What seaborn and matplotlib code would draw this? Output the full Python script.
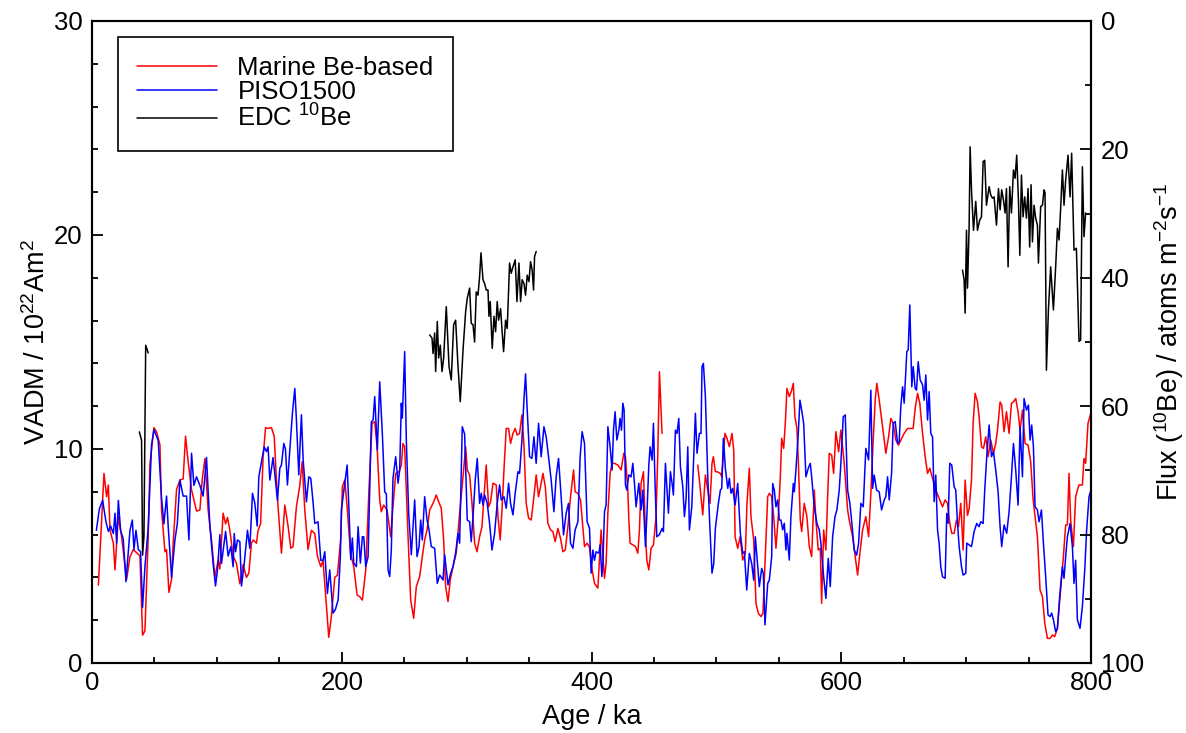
import numpy as np
import pandas as pd
import matplotlib
matplotlib.use("Agg")
import matplotlib.pyplot as plt
from matplotlib.ticker import MultipleLocator
import seaborn as sns

# ---- data ----
# Marine Be-based VADM (10^22 Am^2), gap between ~457 and ~485 ka
marine_age = [5.1, 9.6, 11.7, 13.1, 14.4, 17.1, 18.4, 21.1, 23.7, 27.7, 30.4, 33.1, 38.4, 40.5, 42.4,
              45.0, 46.4, 49.6, 51.7, 54.4, 55.7, 58.4, 59.7, 61.6, 63.7, 65.0, 67.7, 70.4, 73.0, 74.9,
              77.0, 79.7, 83.7, 86.4, 88.3, 90.4, 93.0, 95.7, 98.4, 101.0, 102.4, 105.0, 107.0, 108.5,
              110.4, 113.0, 115.7, 118.4, 121.0, 123.7, 125.6, 127.7, 129.1, 131.7, 133.0, 135.0, 137.0,
              139.0, 141.0, 143.7, 145.9, 147.7, 149.0, 151.7, 154.4, 157.0, 159.2, 161.0, 163.7, 166.4,
              168.3, 170.4, 173.0, 175.7, 178.4, 180.5, 183.2, 185.0, 187.2, 189.6, 191.7, 194.4, 196.5,
              199.2, 200.5, 202.4, 204.3, 207.0, 209.6, 212.3, 214.4, 216.5, 219.2, 221.9, 224.3, 226.4,
              228.3, 230.4, 231.7, 233.6, 236.3, 239.2, 241.0, 243.2, 245.9, 247.7, 249.0, 250.4, 253.1,
              255.2, 257.6, 259.7, 262.4, 264.5, 266.4, 268.3, 270.4, 273.1, 275.7, 277.6, 279.7, 281.6,
              283.2, 285.1, 286.9, 289.1, 291.7, 294.4, 297.1, 299.2, 300.5, 302.4, 304.3, 306.4, 308.3,
              310.4, 312.3, 313.9, 315.7, 317.6, 319.2, 321.1, 323.7, 325.1, 326.9, 328.3, 329.9, 331.7,
              333.6, 335.2, 337.1, 338.9, 340.5, 342.4, 344.3, 345.9, 347.7, 349.6, 351.7, 353.6, 355.7,
              357.6, 359.2, 361.1, 363.0, 365.1, 367.2, 369.1, 370.9, 373.1, 375.2, 377.1, 379.0, 381.1,
              383.2, 384.3, 385.6, 386.9, 389.1, 391.2, 393.1, 394.4, 396.5, 398.4, 400.5, 402.4, 405.1,
              407.7, 409.1, 410.4, 411.7, 413.1, 414.9, 416.5, 418.4, 421.1, 423.7, 425.9, 427.2, 429.1,
              429.9, 430.9, 433.1, 435.2, 437.1, 438.4, 439.7, 441.6, 443.2, 444.3, 445.9, 447.7, 449.6,
              451.7, 453.1, 454.4, 456.5,
              485.1, 486.4, 489.1, 491.2, 493.1, 494.9, 496.5, 497.6, 499.2, 500.5, 503.2, 504.3, 506.9,
              508.5, 510.4, 512.5, 513.9, 515.0, 517.1, 519.0, 521.1, 523.2, 524.5, 526.4, 527.7, 529.9,
              531.7, 533.6, 535.7, 537.3, 538.9, 541.1, 542.4, 544.3, 545.9, 547.7, 549.6, 551.2, 552.3,
              553.9, 555.2, 556.5, 558.4, 560.3, 561.6, 562.9, 564.5, 565.6, 567.2, 568.3, 570.4, 572.5,
              574.4, 576.3, 578.4, 579.7, 581.6, 583.2, 584.3, 585.9, 587.7, 589.1, 590.4, 592.3, 593.9,
              595.7, 597.9, 599.7, 602.4, 605.1, 606.4, 609.1, 611.2, 613.1, 614.9, 617.1, 619.7, 621.9,
              623.7, 625.6, 627.2, 628.5, 630.4, 633.1, 635.7, 637.9, 639.7, 641.6, 643.7, 645.9, 647.7,
              650.4, 653.1, 655.7, 657.6, 659.2, 661.1, 662.9, 665.1, 667.2, 669.1, 670.9, 673.1, 675.7,
              678.4, 681.1, 683.2, 685.1, 686.9, 688.5, 690.4, 692.3, 693.9, 695.7, 697.6, 699.2, 701.1,
              702.4, 704.3, 705.6, 707.2, 709.1, 710.4, 712.3, 713.9, 715.7, 717.6, 719.7, 721.9, 723.7,
              725.1, 727.2, 728.5, 730.4, 732.3, 734.4, 736.3, 737.9, 739.7, 741.6, 743.2, 745.1, 747.2,
              749.6, 751.7, 753.6, 755.2, 757.1, 759.2, 761.1, 763.0, 765.1, 767.2, 769.1, 770.9, 773.1,
              775.2, 777.9, 779.7, 781.1, 782.4, 783.7, 785.9, 787.7, 789.1, 790.4, 793.1, 794.4, 795.7,
              797.6, 799.5]
marine_vadm = [3.64, 8.86, 7.77, 8.32, 6.21, 5.6, 4.35, 6.84, 5.9, 3.9, 4.97, 5.3, 5.0, 1.3, 1.5,
               5.9, 9.3, 11.0, 10.8, 10.2, 7.15, 5.2, 5.3, 3.3, 3.9, 5.6, 8.1, 8.55, 8.6, 10.6,
               9.4, 8.1, 7.1, 7.15, 8.6, 9.55, 7.15, 5.75, 4.0, 4.8, 4.4, 7.0, 6.5, 6.8,
               6.2, 5.0, 4.65, 3.7, 4.6, 4.0, 4.2, 5.6, 5.75, 5.6, 6.2, 6.5, 9.6,
               11.0, 10.96, 11.0, 10.6, 8.55, 7.3, 5.13, 7.38, 6.4, 5.36, 5.44, 7.3, 8.3,
               9.4, 7.15, 5.3, 6.2, 6.05, 5.0, 4.5, 4.8, 3.1, 1.2, 2.17, 4.0, 4.1,
               5.8, 8.24, 8.55, 7.3, 5.14, 4.5, 3.18, 3.1, 2.94, 4.34, 8.24, 11.2, 11.27,
               10.11, 7.62, 7.07, 7.38, 7.15, 5.9, 7.3, 8.86, 8.94, 9.25, 10.26, 10.1, 5.9,
               2.94, 2.09, 3.57, 4.04, 4.97, 5.75, 6.22, 7.15, 7.46, 7.85, 7.54, 7.23, 5.75,
               3.57, 2.87, 3.88, 4.5, 5.14, 7.0, 8.7, 10.1, 9.02, 8.79, 7.46, 5.6, 5.2,
               5.9, 6.37, 7.77, 9.25, 7.3, 7.53, 8.4, 8.32, 6.84, 5.75, 7.15, 9.02, 10.96,
               10.96, 10.26, 10.73, 10.96, 10.65, 10.73, 11.6, 10.2, 7.46, 6.77, 6.68, 7.62, 8.79,
               7.77, 8.24, 8.86, 8.24, 6.52, 6.22, 6.14, 5.67, 6.29, 5.82, 5.2, 5.28, 6.37,
               7.77, 8.32, 9.02, 8.0, 7.93, 7.62, 6.29, 5.44, 5.6, 5.4, 4.35, 3.72, 3.5,
               6.22, 5.0, 3.96, 4.65, 7.0, 8.86, 9.33, 9.33, 9.25, 9.02, 9.8, 9.64, 8.08,
               6.68, 5.6, 5.52, 5.44, 5.13, 6.22, 8.4, 8.94, 6.06, 4.8, 4.35, 5.36, 5.52,
               6.84, 9.8, 13.61, 10.73,
               9.25, 8.55, 6.92, 8.79, 8.08, 7.46, 9.33, 9.64, 8.94, 8.94, 8.86, 8.7, 10.73,
               10.5, 10.11, 10.73, 9.95, 5.9, 5.36, 5.9, 4.81, 5.12, 7.46, 9.1, 6.84, 5.75,
               2.79, 2.32, 2.17, 2.32, 4.65, 7.77, 7.93, 7.77, 6.84, 5.36, 6.84, 8.7, 10.5,
               10.03, 11.2, 12.83, 12.45, 12.75, 13.07, 11.51, 10.96, 9.48, 6.68, 6.14, 7.46, 6.84,
               5.44, 4.97, 8.08, 6.68, 5.28, 5.36, 2.79, 6.22, 5.28, 7.77, 9.8, 9.72, 8.86,
               10.81, 9.87, 10.88, 9.33, 7.15, 6.68, 5.9, 4.97, 4.11, 5.12, 6.22, 6.84, 5.9,
               7.93, 10.42, 12.28, 13.07, 12.28, 11.04, 9.8, 10.57, 11.43, 11.2, 10.42, 10.18, 10.42,
               10.73, 10.96, 10.96, 10.96, 11.9, 12.6, 12.14, 10.73, 9.64, 8.86, 9.1, 8.63, 8.08,
               7.69, 7.3, 7.62, 7.46, 6.53, 6.06, 6.06, 6.68, 6.37, 7.46, 5.28, 8.55, 6.9,
               7.2, 8.55, 11.2, 12.6, 12.2, 11.5, 10.1, 10.03, 10.57, 9.64, 10.42, 9.8, 10.26,
               10.88, 12.2, 12.05, 10.81, 11.74, 10.73, 12.14, 12.2, 12.36, 11.74, 10.88, 11.82, 10.26,
               10.18, 9.41, 7.69, 6.84, 5.9, 3.41, 3.1, 1.85, 1.15, 1.15, 1.31, 1.23, 1.62,
               3.1, 4.97, 6.45, 6.45, 8.86, 6.68, 5.44, 7.77, 8.08, 8.32, 8.32, 9.56, 9.33,
               11.2, 11.6]

# PISO1500 VADM (10^22 Am^2)
piso_age = [3.5, 5.9, 8.5, 11.2, 13.1, 14.9, 17.1, 18.4, 19.7, 21.1, 22.9, 25.0, 27.2, 30.4, 32.3,
            33.6, 35.2, 37.1, 38.9, 40.5, 42.4, 45.0, 47.7, 49.6, 53.0, 55.7, 57.6, 59.7, 61.0, 63.7,
            66.4, 68.3, 70.4, 73.0, 75.7, 77.6, 79.7, 81.6, 83.7, 86.4, 89.0, 91.7, 94.4, 97.0, 98.9,
            100.5, 102.4, 103.7, 107.0, 109.0, 111.2, 113.0, 113.9, 115.0, 116.5, 118.4, 119.7, 121.9,
            124.5, 126.4, 128.5, 130.4, 132.3, 133.6, 135.7, 137.9, 139.7, 141.0, 142.4, 145.0, 146.9,
            148.5, 150.4, 151.7, 153.6, 154.9, 156.5, 158.4, 160.5, 162.4, 163.7, 165.6, 167.7, 169.1,
            171.7, 173.6, 175.2, 177.0, 178.4, 181.0, 183.2, 185.0, 186.4, 188.5, 190.4, 193.0, 194.9,
            197.1, 198.9, 199.7, 202.4, 204.3, 205.9, 207.2, 208.5, 209.6, 211.7, 213.1, 214.9, 216.5,
            217.6, 219.2, 221.1, 223.7, 225.1, 226.4, 228.5, 230.4, 232.5, 234.4, 235.7, 237.1, 238.4,
            239.7, 241.0, 243.2, 245.1, 246.4, 247.7, 248.5, 250.4, 251.7, 253.6, 255.7, 258.4, 260.3,
            261.9, 263.2, 264.5, 266.4, 268.3, 269.9, 271.7, 274.4, 276.5, 278.4, 281.1, 282.4, 285.1,
            287.2, 289.1, 291.2, 293.1, 294.4, 296.5, 298.4, 300.5, 302.4, 303.7, 305.1, 306.9, 308.5,
            310.4, 311.7, 313.1, 314.4, 316.5, 318.4, 320.3, 322.4, 324.5, 326.4, 327.7, 329.9, 331.7,
            333.6, 335.2, 337.1, 338.9, 341.1, 342.4, 344.3, 345.9, 347.2, 348.5, 350.4, 352.3, 353.9,
            355.7, 357.6, 359.7, 361.9, 363.7, 365.6, 367.7, 369.9, 371.7, 373.6, 375.7, 377.6, 379.7,
            381.6, 383.2, 385.1, 386.9, 389.1, 390.9, 392.5, 394.4, 396.5, 398.4, 399.7, 401.1, 402.4,
            403.7, 405.9, 406.9, 408.3, 409.1, 410.4, 411.7, 413.1, 414.9, 416.5, 417.6, 418.9, 420.3,
            421.9, 422.9, 424.0, 425.1, 426.1, 427.2, 428.3, 429.9, 431.7, 433.1, 434.4, 435.7, 437.9,
            439.7, 441.1, 443.2, 444.3, 445.9, 446.9, 448.5, 449.6, 450.9, 452.3, 454.4, 456.5, 457.6,
            459.2, 460.3, 461.6, 463.2, 464.5, 465.6, 467.2, 468.5, 469.9, 471.2, 473.1, 474.4, 475.7,
            477.1, 478.4, 480.3, 481.9, 483.2, 484.5, 486.4, 487.7, 488.5, 489.6, 491.2, 493.1, 494.9,
            496.5, 497.9, 499.2, 501.6, 503.2, 504.3, 505.6, 507.2, 509.1, 510.4, 511.7, 513.1, 515.0,
            517.1, 519.2, 521.1, 522.4, 524.3, 526.4, 528.3, 529.9, 531.2, 532.5, 534.4, 536.3, 537.6,
            538.9, 541.1, 542.4, 544.3, 545.1, 546.4, 547.7, 549.1, 550.4, 551.7, 553.1, 554.4, 555.7,
            556.5, 558.4, 559.7, 561.6, 562.4, 563.7, 565.6, 566.9, 568.3, 569.9, 571.7, 573.6, 575.2,
            576.3, 578.4, 580.5, 582.4, 583.7, 585.9, 587.7, 589.6, 591.2, 593.1, 595.0, 596.5, 598.4,
            599.7, 601.6, 603.2, 605.1, 606.9, 608.5, 610.4, 612.3, 613.9, 615.7, 617.6, 619.7, 621.9,
            623.7, 625.1, 626.4, 628.3, 630.4, 632.3, 634.4, 635.7, 637.1, 638.4, 640.3, 641.6, 643.2,
            645.1, 646.4, 647.7, 649.1, 650.4, 652.5, 653.6, 654.9, 656.5, 657.6, 659.2, 660.3, 661.6,
            663.2, 665.1, 666.4, 667.7, 669.1, 670.4, 671.7, 673.1, 674.4, 675.7, 677.1, 678.4, 679.7,
            681.1, 683.2, 684.5, 685.6, 686.9, 688.5, 690.4, 691.7, 693.1, 694.4, 696.3, 697.6, 699.7,
            700.5, 702.4, 704.3, 706.4, 708.5, 710.4, 711.7, 713.6, 714.9, 716.5, 718.4, 720.3, 721.9,
            723.7, 725.6, 727.2, 728.5, 730.4, 732.5, 734.4, 736.3, 737.9, 739.7, 741.6, 743.2, 745.1,
            746.4, 748.3, 749.9, 751.2, 752.5, 753.9, 755.2, 757.1, 758.4, 760.3, 761.9, 763.7, 765.6,
            767.2, 768.5, 769.9, 771.7, 773.1, 774.9, 777.1, 778.4, 779.7, 781.1, 783.2, 785.1, 786.4,
            787.7, 789.1, 791.2, 793.1, 795.0, 796.5, 798.4, 799.5]
piso_vadm = [6.2, 7.2, 7.6, 6.6, 6.15, 6.4, 6.05, 7.0, 5.6, 7.6, 6.2, 5.8, 3.8, 6.2, 6.68,
             5.3, 6.2, 5.3, 5.2, 2.6, 4.5, 6.3, 10.2, 10.9, 10.4, 7.7, 6.5, 7.8, 6.4, 4.0,
             5.75, 6.5, 8.55, 7.8, 7.8, 5.75, 9.8, 8.3, 8.7, 8.3, 7.8, 9.6, 6.4, 4.65, 3.6,
             4.35, 6.0, 4.65, 6.15, 5.0, 5.44, 4.5, 6.05, 5.2, 5.75, 5.67, 3.6, 4.65,
             6.2, 5.36, 7.93, 7.46, 6.4, 8.7, 9.4, 10.1, 9.88, 10.1, 8.55, 9.6, 8.55,
             7.6, 9.1, 9.25, 10.26, 10.0, 8.32, 9.95, 11.67, 12.83, 11.36, 8.79, 11.6, 9.48,
             7.53, 8.7, 8.63, 7.53, 6.52, 6.6, 4.8, 4.8, 5.2, 3.25, 4.35, 2.33, 2.5,
             2.95, 5.0, 7.15, 8.4, 9.25, 7.0, 4.83, 5.84, 4.67, 4.5, 6.37, 4.67, 5.9,
             5.9, 4.5, 4.97, 11.27, 11.35, 12.45, 9.95, 13.14, 10.73, 8.0, 7.9, 4.34, 4.04,
             5.28, 8.62, 9.64, 8.4, 9.02, 12.14, 11.44, 14.55, 10.42, 7.0, 5.06, 7.62, 4.97,
             5.44, 6.68, 5.75, 7.77, 6.68, 6.22, 5.44, 5.36, 3.72, 4.11, 3.88, 5.06, 3.65,
             4.19, 4.5, 5.14, 6.06, 5.6, 11.04, 10.7, 6.68, 6.6, 5.67, 6.84, 8.55, 9.56,
             7.46, 7.93, 7.38, 7.85, 7.46, 6.52, 5.28, 6.06, 7.46, 8.32, 7.62, 7.77, 7.23,
             8.4, 7.46, 6.92, 7.93, 8.94, 8.86, 10.42, 12.3, 13.51, 11.84, 9.64, 9.56, 10.57,
             9.33, 11.2, 9.64, 11.04, 10.57, 9.64, 8.55, 7.07, 8.7, 9.56, 7.77, 5.99, 7.0,
             7.46, 5.6, 5.36, 6.22, 6.6, 9.64, 10.81, 10.26, 6.6, 6.3, 4.2, 5.28, 4.8,
             5.2, 5.13, 5.52, 4.04, 4.65, 7.07, 7.38, 11.04, 10.1, 9.02, 10.88, 11.74, 10.42,
             10.88, 11.43, 10.88, 12.14, 11.82, 8.32, 8.08, 8.79, 8.7, 9.33, 8.4, 7.3, 8.4,
             7.15, 8.08, 5.44, 6.84, 9.25, 10.1, 9.48, 11.2, 8.4, 5.9, 6.0, 6.29, 6.14,
             9.33, 8.24, 7.0, 8.94, 8.4, 7.85, 10.88, 10.73, 11.43, 9.17, 8.24, 6.84, 7.62,
             10.1, 6.22, 7.3, 9.64, 11.67, 9.8, 10.73, 10.73, 13.85, 14.0, 12.45, 8.7, 6.22,
             4.2, 4.65, 6.3, 7.46, 8.08, 8.16, 10.5, 9.1, 8.16, 8.63, 7.93, 8.16, 7.38,
             8.39, 6.06, 5.12, 5.2, 3.41, 5.12, 4.65, 3.87, 5.9, 4.97, 3.57, 4.42, 4.19,
             1.78, 3.72, 3.87, 4.97, 8.39, 8.08, 7.3, 7.62, 6.68, 6.68, 6.22, 6.53, 5.28,
             6.06, 4.81, 6.84, 8.39, 8.0, 9.02, 10.73, 12.28, 11.82, 11.2, 8.7, 9.1, 9.33,
             8.7, 7.3, 6.53, 6.22, 5.59, 4.03, 3.02, 4.89, 3.57, 5.9, 6.84, 7.15, 8.08,
             9.33, 11.51, 11.59, 8.08, 7.46, 6.53, 5.28, 5.04, 5.59, 7.46, 7.3, 10.03, 9.49,
             12.75, 8.16, 8.78, 8.08, 8.0, 7.15, 7.62, 7.77, 8.7, 7.62, 8.86, 11.2, 11.28,
             10.26, 10.34, 11.98, 12.91, 12.14, 14.55, 14.63, 16.73, 12.91, 13.85, 12.83, 12.75, 14.08,
             13.23, 13.0, 12.28, 13.46, 11.36, 12.68, 10.73, 10.57, 7.54, 8.78, 6.22, 5.59, 4.5,
             4.03, 3.96, 6.99, 6.53, 9.33, 9.25, 8.24, 8.08, 6.53, 5.44, 4.5, 4.11, 4.19,
             5.6, 5.52, 5.44, 6.14, 6.52, 6.37, 6.6, 6.52, 8.08, 9.64, 11.12, 9.64, 9.88,
             9.02, 8.0, 6.37, 5.44, 6.45, 6.06, 7.07, 8.7, 10.26, 9.02, 7.38, 11.04, 8.7,
             12.36, 11.82, 12.05, 10.42, 11.12, 10.1, 7.3, 7.15, 6.6, 7.15, 5.6, 4.04, 2.24,
             2.17, 2.33, 2.02, 1.46, 1.62, 3.1, 4.5, 3.96, 4.97, 5.9, 6.52, 5.44, 3.72,
             4.8, 2.02, 1.62, 2.64, 4.35, 6.21, 7.77, 8.0]

# EDC 10Be flux (atoms m^-2 s^-1), right axis
edc_age = [37.9, 39.7, 40.5, 41.6, 43.0, 45.0,
           270.4, 272.3, 273.1, 274.4, 275.2, 276.5, 277.6, 278.9, 280.3, 281.6, 283.7, 285.9, 287.7,
           289.6, 291.2, 293.1, 294.9, 297.1, 299.2, 300.5, 302.4, 303.7, 305.1, 306.4, 307.7, 309.1,
           310.4, 311.5, 313.1, 314.4, 315.7, 317.1, 317.9, 318.9, 320.5, 321.9, 323.2, 324.5, 325.6,
           327.2, 328.5, 329.6, 331.2, 332.5, 334.4, 335.7, 337.1, 338.9, 340.3, 341.9, 343.2, 344.5,
           345.9, 347.2, 348.5, 349.9, 351.2, 352.5, 353.6, 354.4, 355.7,
           697.1, 698.4, 699.2, 700.3, 701.1, 702.4, 703.2, 704.3, 705.9, 707.7, 709.1, 710.9, 712.3,
           713.6, 714.9, 716.3, 718.4, 719.7, 721.1, 722.4, 724.3, 725.9, 727.2, 728.5, 729.9, 731.2,
           732.3, 733.6, 734.9, 736.3, 737.9, 739.2, 740.5, 741.9, 743.0, 744.3, 745.6, 746.9, 748.3,
           749.6, 750.9, 752.0, 753.1, 754.4, 755.7, 757.1, 757.9, 759.7, 761.1, 762.4, 763.2, 764.3,
           765.9, 767.7, 769.9, 771.7, 773.1, 774.4, 775.7, 777.1, 778.4, 779.7, 781.6, 783.2, 784.5,
           786.4, 788.3, 790.4, 791.7, 793.1, 794.4, 795.7]
edc_flux = [64.0, 65.3, 83.2, 80.3, 50.5, 51.7,
            48.9, 49.4, 51.8, 48.6, 54.6, 46.8, 52.5, 50.5, 54.6, 52.5, 44.5, 53.8, 55.9,
            47.3, 46.6, 53.8, 59.3, 51.3, 45.3, 43.2, 41.6, 47.1, 47.3, 50.0, 42.2, 42.7,
            39.8, 36.1, 40.3, 40.9, 41.9, 41.9, 46.0, 43.7, 51.0, 46.0, 48.4, 43.7, 46.6,
            44.8, 48.6, 51.5, 46.6, 47.9, 37.7, 39.3, 38.3, 37.2, 43.7, 37.7, 43.7, 40.3,
            40.9, 42.7, 39.6, 40.6, 37.5, 38.8, 41.9, 36.7, 35.9,
            38.8, 40.3, 45.5, 32.6, 41.6, 32.0, 19.6, 26.3, 32.6, 28.1, 32.6, 31.0, 30.5,
            21.9, 21.7, 28.7, 25.8, 27.1, 27.6, 27.4, 31.8, 26.1, 29.4, 26.3, 27.9, 29.9,
            26.1, 38.3, 25.8, 29.9, 23.2, 24.5, 20.9, 27.9, 36.5, 24.0, 30.5, 27.4, 30.7,
            26.1, 35.2, 25.5, 34.4, 28.7, 30.7, 31.8, 37.7, 28.9, 28.7, 26.3, 26.8, 54.4,
            45.0, 38.3, 45.0, 38.3, 32.3, 34.1, 29.2, 23.2, 28.7, 24.8, 20.9, 27.4, 20.6,
            35.7, 35.4, 49.9, 49.7, 22.7, 33.6, 29.9]

labels = ["Marine Be-based", "PISO1500", "EDC $^{10}$Be"]
colors = ["#ff0000", "#0000ff", "#000000"]


def segments(age):
    # break the line where the record has a gap of more than 20 ka
    return np.concatenate([[0], np.cumsum(np.diff(age) > 20)])


marine = pd.DataFrame({"age": marine_age, "v": marine_vadm, "seg": segments(marine_age)})
piso = pd.DataFrame({"age": piso_age, "v": piso_vadm})
edc = pd.DataFrame({"age": edc_age, "flux": edc_flux, "seg": segments(edc_age)})

# ---- style ----
sns.set_style("ticks")
plt.rcParams["font.family"] = ["Liberation Sans", "DejaVu Sans"]
plt.rcParams["mathtext.fontset"] = "custom"
plt.rcParams["mathtext.rm"] = "Liberation Sans"
plt.rcParams["mathtext.default"] = "regular"
plt.rcParams["axes.linewidth"] = 1.5
for k in ["text.color", "axes.labelcolor", "xtick.color", "ytick.color", "axes.edgecolor"]:
    plt.rcParams[k] = "black"

fs_tick = 18.5
fs_lab = 19.5

fig = plt.figure(figsize=(11.86, 7.33), dpi=100)
ax = fig.add_axes([92 / 1186, 1 - 663 / 733, 999 / 1186, 642 / 733])
ax2 = ax.twinx()

sns.lineplot(data=marine, x="age", y="v", units="seg", estimator=None, sort=False,
             color=colors[0], lw=1.1, ax=ax, legend=False)
sns.lineplot(data=piso, x="age", y="v", estimator=None, sort=False,
             color=colors[1], lw=1.1, ax=ax, legend=False)
sns.lineplot(data=edc, x="age", y="flux", units="seg", estimator=None, sort=False,
             color=colors[2], lw=1.1, ax=ax2, legend=False)

ax.set_xlim(0, 800)
ax.set_ylim(0, 30)
ax2.set_ylim(100, 0)

ax.xaxis.set_major_locator(MultipleLocator(200))
ax.xaxis.set_minor_locator(MultipleLocator(50))
ax.yaxis.set_major_locator(MultipleLocator(10))
ax.yaxis.set_minor_locator(MultipleLocator(2))
ax2.yaxis.set_major_locator(MultipleLocator(20))
ax2.yaxis.set_minor_locator(MultipleLocator(10))

ax.tick_params(which="both", direction="in", labelsize=fs_tick, width=1.3, top=False)
ax.tick_params(which="major", length=8)
ax.tick_params(which="minor", length=4)
ax.tick_params(axis="x", pad=6)
ax.tick_params(axis="y", pad=7)
ax2.tick_params(which="both", direction="in", labelsize=fs_tick, width=1.3, pad=7)
ax2.tick_params(which="major", length=8)
ax2.tick_params(which="minor", length=4)

ax.set_xlabel("Age / ka", fontsize=fs_lab, labelpad=6)
ax.set_ylabel("VADM / 10$^{22}$Am$^{2}$", fontsize=fs_lab, labelpad=2)
ax2.set_ylabel("Flux ($^{10}$Be) / atoms m$^{-2}$s$^{-1}$", fontsize=fs_lab, labelpad=6)

for a in (ax, ax2):
    for s in a.spines.values():
        s.set_linewidth(1.5)
        s.set_color("black")

handles = [plt.Line2D([], [], color=c, lw=1.1) for c in colors]
leg = ax.legend(handles, labels, loc="upper left", bbox_to_anchor=(0.026, 0.975),
                fontsize=fs_tick, frameon=True, fancybox=False, edgecolor="black",
                framealpha=1, handlelength=3.1, handletextpad=0.8, labelspacing=0.0,
                borderpad=0.75, borderaxespad=0)
leg.get_frame().set_linewidth(1.2)

fig.savefig("out.png", dpi=100)
